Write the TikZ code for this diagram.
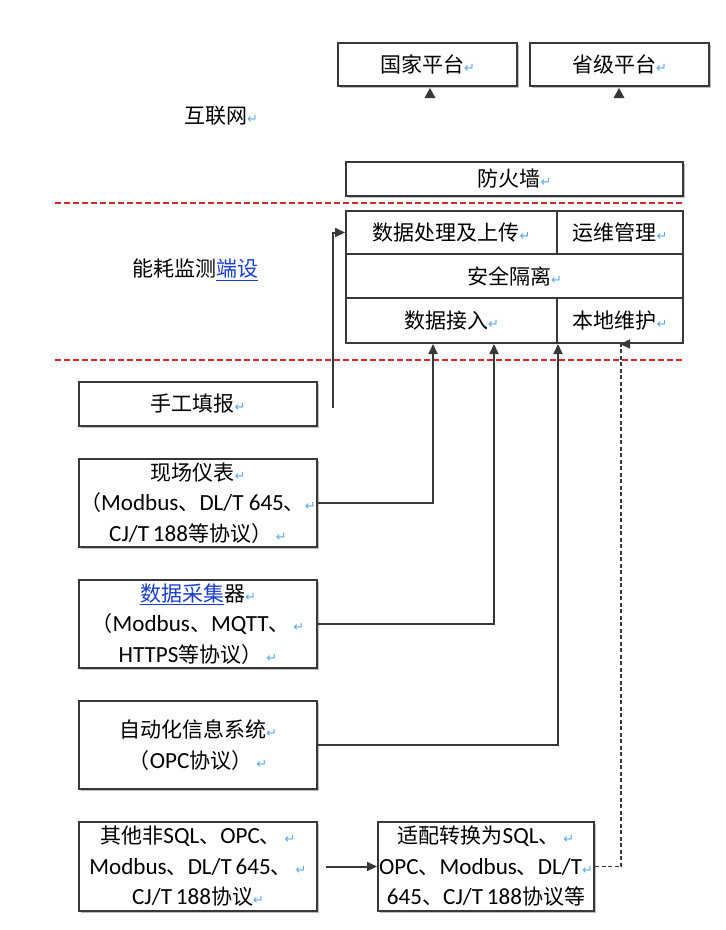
\documentclass[tikz,border=0pt]{standalone}
\usepackage{fontspec}
\setmainfont{Carlito}[Scale=1.1]
\newfontfamily\cjkfont{Noto Sans CJK SC}
\newfontfamily\markfont{DejaVu Sans}
\usetikzlibrary{arrows.meta,shadows}
\definecolor{linegray}{HTML}{383838}
\definecolor{dashred}{HTML}{D42A2A}
\definecolor{pmblue}{HTML}{5CA8E6}
\definecolor{linkblue}{HTML}{1A3FCF}
\newcommand\zh[1]{{\cjkfont #1}}
\newcommand\pmk{{\markfont\fontsize{13}{13}\selectfont\textcolor{pmblue}{↵}}}
\newcommand\lnk[1]{\textcolor{linkblue}{\underline{\cjkfont #1}}}
\tikzset{
  box/.style={draw=linegray, line width=2pt, fill=white, inner sep=0pt,
    align=center, font=\fontsize{21}{30.5}\selectfont,
    drop shadow={shadow xshift=1.5pt, shadow yshift=-1.5pt, opacity=0.25, fill=black}},
  cell/.style={draw=linegray, line width=2pt, fill=white, inner sep=0pt,
    align=center, font=\fontsize{21}{30}\selectfont},
  arr/.style={draw=linegray, line width=2pt, -{Triangle[length=10pt,width=9pt]}},
  darr/.style={draw=linegray, line width=1.5pt, dash pattern=on 4pt off 2.5pt, -{Triangle[length=10pt,width=9pt]}},
  redline/.style={draw=dashred, line width=1.4pt, dash pattern=on 6pt off 3pt},
  lbl/.style={inner sep=0pt, font=\fontsize{21}{24}\selectfont}
}
\begin{document}
\begin{tikzpicture}[x=1pt,y=-1pt]
\useasboundingbox (0,0) rectangle (726,930);
\fill[white] (0,0) rectangle (726,930);

% platforms
\node[box, minimum width=179pt, minimum height=43pt] (gj) at (427.5,64.5) {\zh{国家平台}\pmk};
\node[box, minimum width=179pt, minimum height=43pt] (sj) at (619.5,64.5) {\zh{省级平台}\pmk};
\fill[linegray] ([xshift=2.5pt,yshift=-1pt]gj.south) -- ++(-5.5pt,-10pt) -- ++(11pt,0) -- cycle;
\fill[linegray] ([xshift=-0.5pt,yshift=-1pt]sj.south) -- ++(-5.5pt,-10pt) -- ++(11pt,0) -- cycle;

\node[lbl] (inet) at (221,116) {\zh{互联网}\pmk};

% firewall
\node[box, minimum width=337pt, minimum height=34pt] (fw) at (514.5,179) {\zh{防火墙}\pmk};

% red dashed separators
\coordinate (r1a) at (55,203);
\coordinate (r1b) at (683,203);
\coordinate (r2a) at (55,360);
\coordinate (r2b) at (683,360);
\draw[redline] (r1a) -- (r1b);
\draw[redline] (r2a) -- (r2b);

\node[lbl] (term) at (195,270) {\zh{能耗监测}\lnk{端设}};

% main block
\node[cell, minimum width=211pt, minimum height=43pt] (dp) at (451.5,232.5) {\zh{数据处理及上传}\pmk};
\node[cell, minimum width=126pt, minimum height=43pt] (yw) at (620,232.5) {\zh{运维管理}\pmk};
\node[cell, minimum width=337pt, minimum height=44pt] (aq) at (514.5,276) {\zh{安全隔离}\pmk};
\node[cell, minimum width=211pt, minimum height=45pt] (jr) at (451.5,320.5) {\zh{数据接入}\pmk};
\node[cell, minimum width=126pt, minimum height=45pt] (bd) at (620,320.5) {\zh{本地维护}\pmk};

% sources
\node[box, minimum width=238pt, minimum height=44pt] (sg) at (198,404) {\zh{手工填报}\pmk};
\node[box, minimum width=238pt, minimum height=88pt] (xc) at (198,503)
  {\zh{现场仪表}\pmk\\\zh{（}Modbus\zh{、}DL/T\ 645\zh{、}\pmk\\CJ/T\,188\zh{等协议）}\,\pmk};
\node[box, minimum width=238pt, minimum height=88pt] (cj) at (198,624)
  {\lnk{数据采集}\zh{器}\pmk\\\zh{（}Modbus\zh{、}MQTT\zh{、}\,\pmk\\HTTPS\zh{等协议）}\,\pmk};
\node[box, minimum width=238pt, minimum height=88pt] (zd) at (198,745)
  {\zh{自动化信息系统}\pmk\\\zh{（}OPC\zh{协议）}\,\pmk};
\node[box, minimum width=238pt, minimum height=89pt] (qt) at (198,866.5)
  {\zh{其他非}SQL\zh{、}OPC\zh{、}\,\pmk\\Modbus\zh{、}DL/T\,645\zh{、}\,\pmk\\CJ/T\,188\zh{协议}\pmk};
\node[box, minimum width=216pt, minimum height=89pt] (sp) at (486,866.5)
  {\zh{适配转换为}SQL\zh{、}\,\pmk\\OPC\zh{、}Modbus\zh{、}DL/T\pmk\\645\zh{、}CJ/T\,188\zh{协议等}};

% connectors
\coordinate (sgend) at (333,408);
\draw[arr] (sgend) |- (dp.west);
\draw[arr] (xc.east) -| ([xshift=-18.5pt]jr.south);
\draw[arr] (cj.east) -| ([xshift=42.5pt]jr.south);
\draw[arr] (zd.east) -| (jr.south east);
\draw[arr] ([xshift=8pt]qt.east) -- (sp.west);
\draw[darr] (sp.east) -- ++(26pt,0) |- (bd.south);
\end{tikzpicture}
\end{document}
